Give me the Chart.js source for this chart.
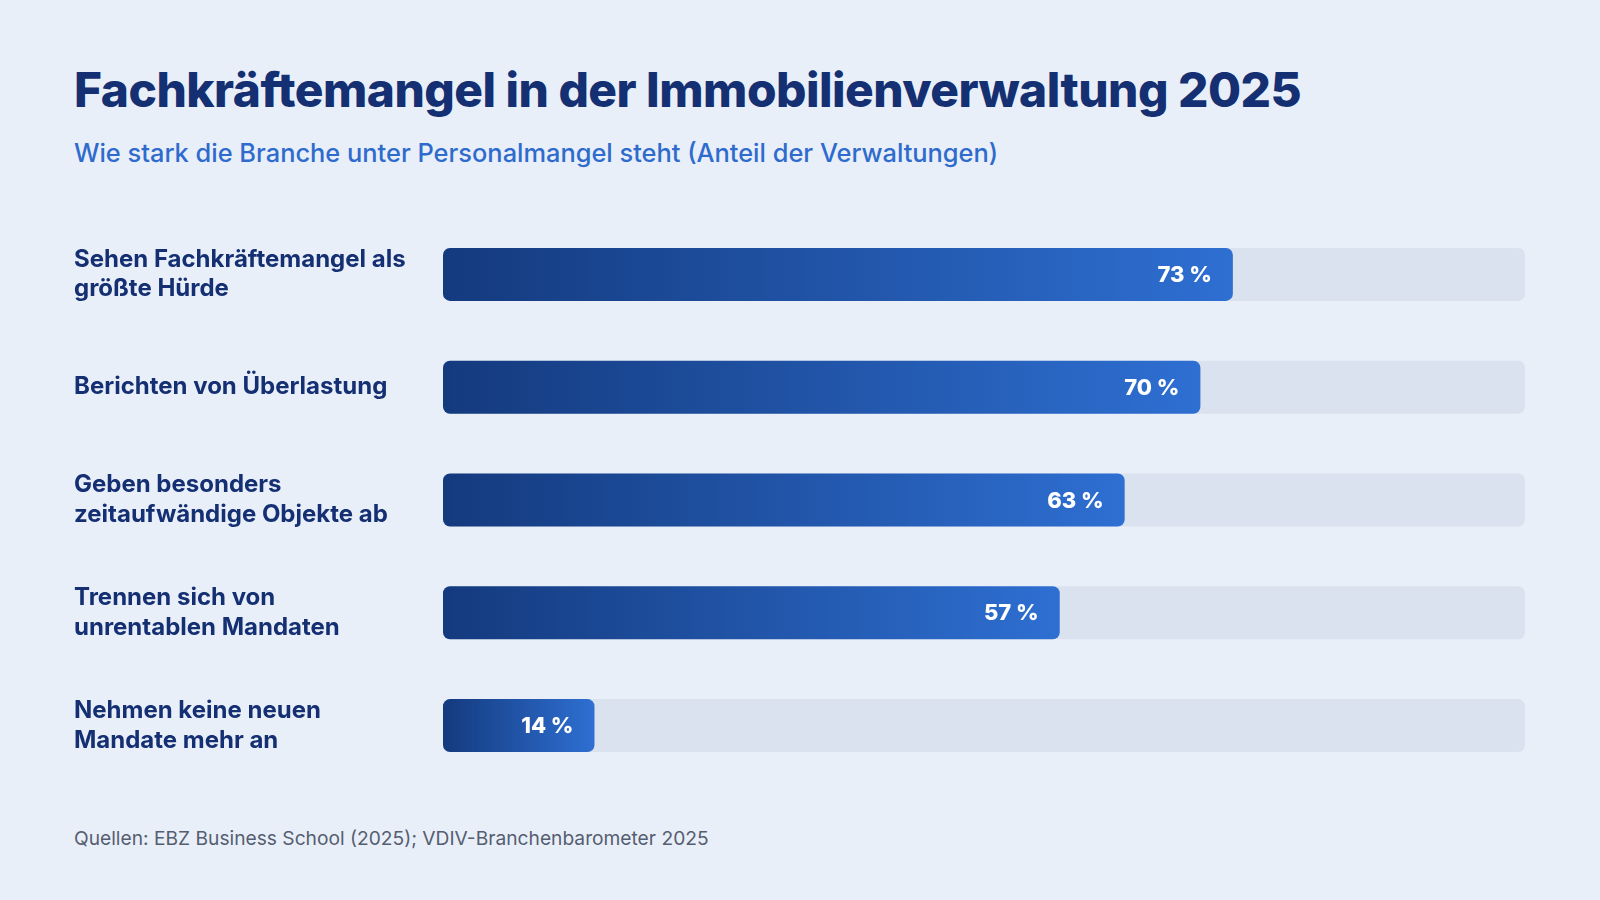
<!DOCTYPE html>
<html>
<head>
<meta charset="utf-8">
<title>Fachkräftemangel in der Immobilienverwaltung 2025</title>
<script src="https://cdn.jsdelivr.net/npm/chart.js@4.4.1/dist/chart.umd.min.js"></script>
<style>
  html, body { margin: 0; padding: 0; }
  body {
    width: 1600px; height: 900px; background: #e9eff9; position: relative; overflow: hidden;
    font-family: "Inter", "Open Sans", sans-serif;
  }
  #title {
    position: absolute; left: 74px; top: 61px; margin: 0;
    font-size: 47.8px; font-weight: 800; color: #142f72; letter-spacing: -0.5px; white-space: nowrap;
  }
  #subtitle {
    position: absolute; left: 74px; top: 137px; margin: 0;
    font-size: 25.4px; font-weight: 500; color: #2e6bcd; white-space: nowrap;
  }
  #source {
    position: absolute; left: 74px; top: 826px; margin: 0;
    font-size: 19.2px; color: #555e70; white-space: nowrap;
  }
  #wrap { position: absolute; left: 74px; top: 218px; width: 1451px; height: 564px; }
</style>
</head>
<body>
<h1 id="title">Fachkräftemangel in der Immobilienverwaltung 2025</h1>
<p id="subtitle">Wie stark die Branche unter Personalmangel steht (Anteil der Verwaltungen)</p>
<div id="wrap"><canvas id="chart"></canvas></div>
<p id="source">Quellen: EBZ Business School (2025); VDIV-Branchenbarometer 2025</p>

<script>
  // Daten
  const labels = [
    ['Sehen Fachkräftemangel als', 'größte Hürde'],
    'Berichten von Überlastung',
    ['Geben besonders', 'zeitaufwändige Objekte ab'],
    ['Trennen sich von', 'unrentablen Mandaten'],
    ['Nehmen keine neuen', 'Mandate mehr an']
  ];
  const anteile = [73, 70, 63, 57, 14];
  const hintergrund = [100, 100, 100, 100, 100];

  const ctx = document.getElementById('chart').getContext('2d');

  // Verlauf pro Balken: dunkel links, hell am Balkenende
  function barGradient(c) {
    const chart = c.chart;
    const x = chart.scales && chart.scales.x;
    if (!chart.chartArea || !x || c.raw == null) return '#1f4f9e';
    const x0 = x.getPixelForValue(0);
    const x1 = x.getPixelForValue(c.raw);
    const g = chart.ctx.createLinearGradient(x0, 0, x1, 0);
    g.addColorStop(0, '#143a7e');
    g.addColorStop(1, '#2e6fd2');
    return g;
  }

  const valueLabels = {
    id: 'valueLabels',
    afterDatasetsDraw(chart) {
      const meta = chart.getDatasetMeta(0);
      const c = chart.ctx;
      c.save();
      c.font = '800 22px Inter, sans-serif';
      c.fillStyle = '#ffffff';
      c.textAlign = 'right';
      c.textBaseline = 'middle';
      meta.data.forEach((bar, i) => {
        c.fillText(anteile[i] + ' %', bar.x - 21, bar.y + 1);
      });
      c.restore();
    }
  };

  new Chart(ctx, {
    type: 'bar',
    data: {
      labels: labels,
      datasets: [
        {
          label: 'Anteil',
          data: anteile,
          backgroundColor: barGradient,
          borderRadius: 7,
          borderSkipped: false,
          grouped: false,
          categoryPercentage: 1,
          barPercentage: 0.47
        },
        {
          label: 'Gesamt',
          data: hintergrund,
          backgroundColor: '#d9e2ee',
          borderRadius: 7,
          borderSkipped: false,
          grouped: false,
          categoryPercentage: 1,
          barPercentage: 0.47
        }
      ]
    },
    options: {
      indexAxis: 'y',
      responsive: true,
      maintainAspectRatio: false,
      animation: false,
      layout: { padding: 0 },
      plugins: { legend: { display: false }, tooltip: { enabled: false } },
      scales: {
        x: { display: false, min: 0, max: 100 },
        y: {
          grid: { display: false },
          border: { display: false },
          afterFit(scale) {
            scale.width = 369;
            scale.paddingTop = 0;
            scale.paddingBottom = 0;
          },
          ticks: {
            crossAlign: 'far',
            padding: 0,
            color: '#142f72',
            font: { family: 'Inter', size: 24, weight: '700', lineHeight: 1.23 }
          }
        }
      }
    },
    plugins: [valueLabels]
  });
</script>
</body>
</html>
